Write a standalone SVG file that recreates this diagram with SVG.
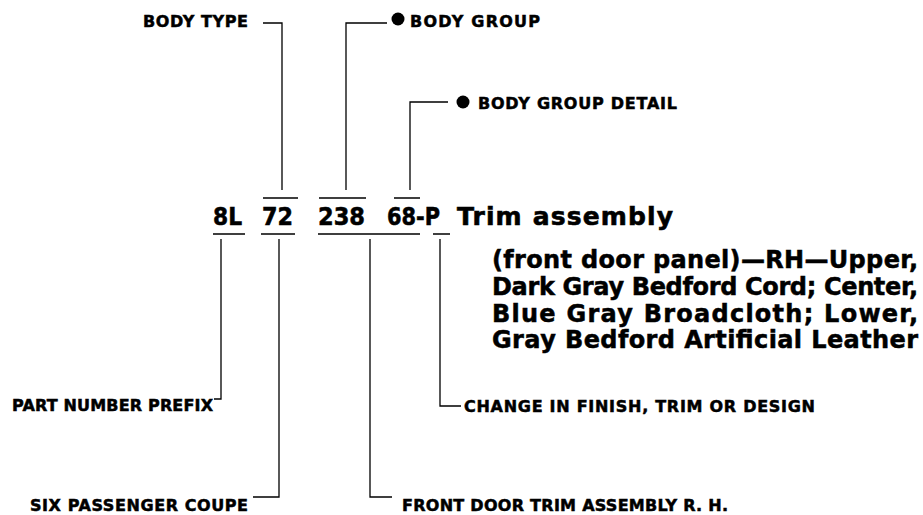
<svg xmlns="http://www.w3.org/2000/svg" width="923" height="515" viewBox="0 0 923 515">
<style>
.lbl{font-family:"DejaVu Sans","Liberation Sans",sans-serif;font-weight:bold;font-size:16px;fill:#000;stroke:#000;stroke-width:0.5}
.big{font-family:"DejaVu Sans","Liberation Sans",sans-serif;font-weight:bold;font-size:25px;fill:#000;stroke:#000;stroke-width:0.6}
.desc{font-family:"DejaVu Sans","Liberation Sans",sans-serif;font-weight:bold;font-size:24px;fill:#000;stroke:#000;stroke-width:0.5}
.ln{fill:none;stroke:#000;stroke-width:1.3}
</style>
<rect width="923" height="515" fill="#fff"/>
<g id="connectors">
<path class="ln" d="M263,23 H282 V190"/>
<path class="ln" d="M387,23 H346 V190"/>
<path class="ln" d="M448,102 H410 V190"/>
<path class="ln" d="M263,198 H298 M319,198 H366 M394,198 H420"/>
<path class="ln" d="M213,234 H245 M261,234 H295 M318,234 H420 M433,234 H450"/>
<path class="ln" d="M221,239 V399 H214"/>
<path class="ln" d="M279,239 V497 H253"/>
<path class="ln" d="M370,239 V497 H392"/>
<path class="ln" d="M440,239 V406 H461"/>
</g>
<g id="body-type"><text class="lbl" x="143" y="27" textLength="105" lengthAdjust="spacing">BODY TYPE</text></g>
<g id="body-group"><circle cx="398" cy="19" r="6.5"/><text class="lbl" x="410" y="27" textLength="130" lengthAdjust="spacing">BODY GROUP</text></g>
<g id="body-group-detail"><circle cx="463" cy="102" r="6.5"/><text class="lbl" x="478" y="109" textLength="199" lengthAdjust="spacing">BODY GROUP DETAIL</text></g>
<g id="part-number">
<text class="big" x="213" y="225" textLength="29" lengthAdjust="spacingAndGlyphs">8L</text>
<text class="big" x="262" y="225" textLength="31" lengthAdjust="spacingAndGlyphs">72</text>
<text class="big" x="318" y="225" textLength="47" lengthAdjust="spacingAndGlyphs">238</text>
<text class="big" x="387" y="225" textLength="53" lengthAdjust="spacingAndGlyphs">68-P</text>
<text class="big" x="457" y="225" textLength="216" lengthAdjust="spacing">Trim assembly</text>
</g>
<g id="description">
<text class="desc" x="492" y="268" textLength="426" lengthAdjust="spacing">(front door panel)—RH—Upper,</text>
<text class="desc" x="492" y="295" textLength="426" lengthAdjust="spacing">Dark Gray Bedford Cord; Center,</text>
<text class="desc" x="492" y="322" textLength="426" lengthAdjust="spacing">Blue Gray Broadcloth; Lower,</text>
<text class="desc" x="492" y="348" textLength="426" lengthAdjust="spacing">Gray Bedford Artificial Leather</text>
</g>
<g id="part-number-prefix"><text class="lbl" x="12" y="411" textLength="201" lengthAdjust="spacing">PART NUMBER PREFIX</text></g>
<g id="change"><text class="lbl" x="464" y="412" textLength="351" lengthAdjust="spacing">CHANGE IN FINISH, TRIM OR DESIGN</text></g>
<g id="six-passenger-coupe"><text class="lbl" x="30" y="511" textLength="218" lengthAdjust="spacing">SIX PASSENGER COUPE</text></g>
<g id="front-door-trim"><text class="lbl" x="402" y="511" textLength="326" lengthAdjust="spacing">FRONT DOOR TRIM ASSEMBLY R. H.</text></g>
</svg>
